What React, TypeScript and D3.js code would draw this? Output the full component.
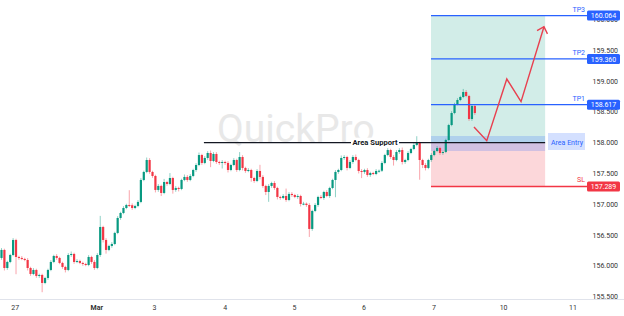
import React from "react";
import * as d3 from "d3";

const W = 624;
const H = 316;

// ---- data ----
const firstOpen = 156.129;
const closes = [
  156.259, 155.966, 156.064, 156.177, 156.421, 156.145, 156.129, 156.113, 156.096, 155.966,
  155.869, 155.934, 155.837, 155.853, 155.723, 155.804, 155.934, 156.064, 156.161, 156.129,
  156.048, 155.983, 155.934, 156.177, 156.194, 156.064, 156.08, 156.048, 156.031, 156.015,
  156.145, 156.064, 155.966, 156.177, 156.632, 156.421, 156.259, 156.324, 156.356, 156.535,
  156.778, 156.859, 156.94, 156.989, 156.985, 156.94, 156.973, 157.038, 157.395, 157.525,
  157.719, 157.525, 157.46, 157.233, 157.298, 157.184, 157.362, 157.33, 157.427, 157.233,
  157.265, 157.249, 157.395, 157.444, 157.395, 157.46, 157.557, 157.638, 157.8, 157.671,
  157.752, 157.833, 157.703, 157.817, 157.687, 157.671, 157.687, 157.671, 157.557, 157.638,
  157.719, 157.557, 157.768, 157.59, 157.541, 157.557, 157.427, 157.379, 157.541, 157.444,
  157.298, 157.2, 157.298, 157.346, 157.265, 157.119, 157.103, 157.135, 157.07, 157.168,
  157.151, 157.119, 157.135, 157.005, 157.01, 156.989, 156.6, 156.892, 156.989, 157.119,
  157.103, 157.2, 157.135, 157.265, 157.395, 157.525, 157.557, 157.752, 157.768, 157.59,
  157.687, 157.768, 157.719, 157.541, 157.525, 157.557, 157.476, 157.508, 157.492, 157.541,
  157.545, 157.671, 157.8, 157.881, 157.768, 157.719, 157.849, 157.881, 157.687, 157.719,
  157.833, 157.898, 157.963, 157.995, 157.719, 157.638, 157.59, 157.719, 157.8, 157.865,
  157.914, 157.833, 157.849, 158.044, 158.287, 158.482, 158.628, 158.693, 158.742, 158.823,
  158.758, 158.385, 158.596, 158.482,
];
// wick lengths beyond the body, in pips (0.01)
const wickUp = [
  3, 2, 2, 2, 3, 2, 2, 3, 2, 3,
  2, 3, 2, 2, 2, 2, 2, 3, 2, 3,
  2, 2, 2, 3, 4, 2, 3, 2, 2, 2,
  3, 2, 3, 3, 18, 2, 3, 2, 3, 2,
  3, 2, 3, 2, 24, 3, 2, 3, 3, 2,
  4, 3, 2, 2, 3, 2, 5, 2, 8, 2,
  3, 2, 2, 4, 3, 3, 2, 3, 4, 2,
  3, 3, 4, 3, 3, 2, 3, 2, 3, 2,
  3, 2, 8, 3, 2, 3, 2, 2, 3, 10,
  3, 2, 3, 2, 3, 2, 2, 3, 12, 3,
  3, 2, 3, 2, 3, 2, 3, 2, 3, 2,
  3, 2, 3, 2, 2, 3, 2, 4, 3, 2,
  3, 3, 4, 2, 3, 2, 3, 2, 2, 3,
  2, 3, 2, 3, 2, 3, 3, 3, 4, 2,
  3, 2, 3, 11, 2, 2, 3, 2, 3, 2,
  3, 2, 2, 2, 2, 3, 2, 3, 2, 5,
  3, 2, 3, 2,
];
const wickDown = [
  3, 4, 3, 2, 2, 28, 3, 2, 2, 4,
  3, 2, 3, 3, 15, 2, 3, 2, 2, 3,
  2, 3, 4, 2, 3, 3, 2, 2, 3, 2,
  2, 3, 3, 2, 3, 4, 6, 2, 3, 2,
  2, 3, 2, 2, 3, 3, 2, 2, 2, 2,
  2, 3, 3, 4, 3, 5, 2, 3, 2, 6,
  3, 4, 2, 2, 3, 2, 2, 3, 2, 3,
  2, 3, 10, 2, 3, 3, 9, 3, 4, 2,
  2, 3, 2, 4, 3, 2, 6, 3, 2, 4,
  3, 5, 16, 3, 3, 4, 3, 2, 3, 2,
  3, 2, 3, 4, 2, 3, 13, 3, 2, 3,
  2, 3, 2, 3, 2, 28, 3, 2, 3, 4,
  2, 3, 2, 4, 10, 3, 3, 3, 2, 2,
  3, 2, 2, 2, 3, 9, 2, 3, 4, 3,
  2, 2, 2, 2, 32, 5, 4, 2, 3, 2,
  2, 3, 3, 2, 2, 2, 2, 2, 2, 2,
  2, 3, 3, 3,
];

const timeLabels = ["27", "Mar", "3", "4", "5", "6", "7", "10", "11"];
const timeLabelIndex = [4.7, 32.8, 52.7, 77, 100.9, 124.8, 148.9, 172.9, 196.8];
const priceTicks = [155.5, 156, 156.5, 157, 157.5, 158, 158.5, 159, 159.5, 160];

const supportLevel = 158.0;
const supportStartIndex = 69.7;
const zoneStartIndex = 147.9;
const zoneEndIndex = 187.2;
const entryTop = 158.109;
const entryBottom = 157.865;
const stopLoss = 157.289;
const targetNames = ["TP1", "TP2", "TP3"];
const targetPrices = [158.617, 159.36, 160.064];

const arrowIndex = [162.7, 167.1, 174, 178.9, 186.8];
const arrowPrice = [158.255, 158.032, 159.034, 158.666, 159.883];

// ---- styles ----
const UP = "#089981";
const DOWN = "#f23645";
const BLUE = "#2962ff";
const FONT = "Roboto, 'Noto Sans', sans-serif";

export default function App() {
  const x = d3.scaleLinear().domain([0, 200]).range([1.5, 1.5 + 200 * 2.904]);
  const y = d3.scaleLinear().domain([155.5, 160]).range([296.7, 19.5]);

  const candles = closes.map((c, i) => {
    const o = i === 0 ? firstOpen : closes[i - 1];
    const top = Math.max(o, c);
    const bot = Math.min(o, c);
    return {
      i,
      o,
      c,
      hi: top + wickUp[i] / 100,
      lo: bot - wickDown[i] / 100,
      top,
      bot,
      up: c >= o,
    };
  });

  const zx0 = x(zoneStartIndex);
  const zx1 = x(zoneEndIndex);
  const axisBoxX = 587;
  const axisBoxW = 33;

  const line = d3
    .line<number>()
    .x((_, i) => x(arrowIndex[i]))
    .y((p) => y(p));
  const arrowD = line(arrowPrice) || "";
  const n = arrowIndex.length;
  const tx = x(arrowIndex[n - 1]);
  const ty = y(arrowPrice[n - 1]);
  const px = x(arrowIndex[n - 2]);
  const py = y(arrowPrice[n - 2]);
  const ang = Math.atan2(py - ty, px - tx);
  const hl = 8;
  const a1 = ang + Math.PI / 4.2;
  const a2 = ang - Math.PI / 4.2;
  const headD = `M${tx + hl * Math.cos(a1)},${ty + hl * Math.sin(a1)}L${tx},${ty}L${tx + hl * Math.cos(a2)},${ty + hl * Math.sin(a2)}`;

  const supY = y(supportLevel);
  const supLabelX = 375;

  return (
    <>
      <style>{`body{margin:0;background:#fff}`}</style>
      <svg width={W} height={H} style={{ display: "block", fontFamily: FONT }}>
        <rect x={0} y={0} width={W} height={H} fill="#fff" />
        {/* watermark */}
        <text x={217} y={142} fontSize={39} fill="#e8e8e8" fontFamily={FONT}>
          QuickPro
        </text>

        {/* target / stop zones */}
        <rect x={zx0} y={y(targetPrices[2])} width={zx1 - zx0} height={supY - y(targetPrices[2])} fill="rgba(8,153,129,0.18)" />
        <rect x={zx0} y={supY} width={zx1 - zx0} height={y(stopLoss) - supY} fill="rgba(242,54,69,0.2)" />
        <rect x={zx0} y={y(entryTop)} width={zx1 - zx0} height={y(entryBottom) - y(entryTop)} fill="rgba(41,98,255,0.2)" />

        {/* candles */}
        {candles.map((d) => {
          const cx = x(d.i);
          const col = d.up ? UP : DOWN;
          const yt = y(d.top);
          const yb = y(d.bot);
          return (
            <g key={d.i}>
              <line x1={cx} x2={cx} y1={y(d.hi)} y2={y(d.lo)} stroke={col} strokeOpacity={0.45} strokeWidth={1} />
              <rect x={cx - 1.1} y={yt} width={2.2} height={Math.max(1, yb - yt)} fill={col} />
            </g>
          );
        })}

        {/* area support */}
        <line x1={x(supportStartIndex)} x2={zx1} y1={supY} y2={supY} stroke="#131722" strokeWidth={1.3} />
        <rect x={supLabelX - 24} y={supY - 5} width={48} height={10} fill="#fff" />
        <text x={supLabelX} y={supY + 2.6} textAnchor="middle" fontSize={7.6} fontWeight="bold" fill="#131722">
          Area Support
        </text>

        {/* target lines */}
        {targetPrices.map((p, i) => (
          <g key={targetNames[i]}>
            <line x1={zx0} x2={axisBoxX} y1={y(p)} y2={y(p)} stroke={BLUE} strokeWidth={1.3} />
            <text x={585} y={y(p) - 4} textAnchor="end" fontSize={7} fill={BLUE}>
              {targetNames[i]}
            </text>
          </g>
        ))}
        <line x1={zx0} x2={axisBoxX} y1={y(stopLoss)} y2={y(stopLoss)} stroke={DOWN} strokeWidth={1.3} />
        <text x={585} y={y(stopLoss) - 4} textAnchor="end" fontSize={7} fill={DOWN}>
          SL
        </text>

        {/* entry label */}
        <rect x={548} y={y(entryTop) - 3} width={37} height={y(entryBottom) - y(entryTop) + 2} fill="rgba(41,98,255,0.2)" />
        <text x={551} y={(y(entryTop) + y(entryBottom)) / 2 + 1.5} fontSize={7} fill={BLUE}>
          Area Entry
        </text>

        {/* arrow */}
        <path d={arrowD} fill="none" stroke="#e8404f" strokeWidth={1.4} strokeLinejoin="miter" />
        <path d={headD} fill="none" stroke="#e8404f" strokeWidth={1.4} />

        {/* price axis */}
        {priceTicks.map((p) => (
          <text key={p} x={618} y={y(p) + 2.5} textAnchor="end" fontSize={7} fill="#333">
            {p.toFixed(3)}
          </text>
        ))}
        {targetPrices.map((p, i) => (
          <g key={"b" + i}>
            <rect x={axisBoxX} y={y(p) - 5} width={axisBoxW} height={10} rx={1.5} fill={BLUE} />
            <text x={axisBoxX + axisBoxW / 2} y={y(p) + 2.6} textAnchor="middle" fontSize={7} fill="#fff">
              {p.toFixed(3)}
            </text>
          </g>
        ))}
        <rect x={axisBoxX} y={y(stopLoss) - 5} width={axisBoxW} height={10} rx={1.5} fill={DOWN} />
        <text x={axisBoxX + axisBoxW / 2} y={y(stopLoss) + 2.6} textAnchor="middle" fontSize={7} fill="#fff">
          {stopLoss.toFixed(3)}
        </text>

        {/* time axis */}
        <line x1={0} x2={W} y1={299.5} y2={299.5} stroke="#e0e3eb" strokeWidth={1} />
        {timeLabels.map((t, i) => (
          <text
            key={t}
            x={x(timeLabelIndex[i])}
            y={310}
            textAnchor="middle"
            fontSize={7}
            fontWeight={t === "Mar" ? "bold" : "normal"}
            fill="#333"
          >
            {t}
          </text>
        ))}
      </svg>
    </>
  );
}
